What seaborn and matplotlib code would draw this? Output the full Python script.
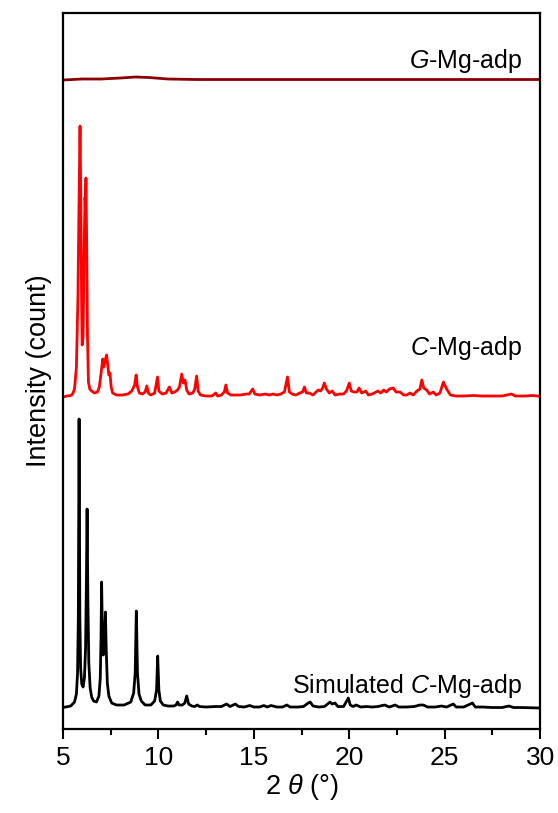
import matplotlib
matplotlib.use("Agg")
import matplotlib.pyplot as plt
import seaborn as sns
from matplotlib.ticker import MultipleLocator

# simulated C-Mg-adp pattern (2theta, intensity above its own baseline)
sim_x = [5.0, 5.4, 5.6, 5.7, 5.76, 5.8, 5.84, 5.88, 5.92, 5.98, 6.05, 6.12, 6.18, 6.22, 6.26,
         6.30, 6.35, 6.42, 6.5, 6.6, 6.75, 6.88, 6.95, 6.99, 7.02, 7.06, 7.11, 7.15, 7.19, 7.22,
         7.26, 7.32, 7.4, 7.55, 7.8, 8.2, 8.55, 8.7, 8.78, 8.84, 8.9, 8.98, 9.1, 9.3, 9.6, 9.8,
         9.9, 9.96, 10.02, 10.1, 10.25, 10.5, 10.8, 10.92, 11.0, 11.08, 11.25, 11.38, 11.48,
         11.58, 11.75, 11.9, 12.04, 12.15, 12.5, 13.0, 13.3, 13.57, 13.75, 14.03, 14.2, 14.5,
         14.78, 15.0, 15.3, 15.52, 15.7, 15.9, 16.2, 16.5, 16.73, 16.9, 17.3, 17.6, 17.85,
         17.95, 18.1, 18.4, 18.7, 18.99, 19.1, 19.25, 19.4, 19.7, 19.95, 20.05, 20.2, 20.36,
         20.6, 20.9, 21.2, 21.5, 21.85, 22.1, 22.4, 22.6, 23.0, 23.4, 23.7, 23.88, 24.1, 24.5,
         24.83, 25.1, 25.45, 25.6, 26.0, 26.45, 26.6, 27.0, 27.5, 28.0, 28.37, 28.6, 29.0, 30.0]
sim_y = [0.5, 2, 6, 14, 35, 90, 289, 90, 40, 24, 21, 30, 60, 120, 199,
         110, 45, 20, 11, 7, 6, 12, 30, 70, 126, 75, 53, 60, 80, 96,
         60, 25, 12, 5, 3, 3, 6, 15, 35, 97, 35, 14, 7, 3, 3, 7,
         18, 52, 18, 7, 3, 2, 2, 3, 6, 3, 3, 5, 12,
         4, 2, 1.5, 3, 1.5, 1, 1.5, 1.5, 4, 1.5, 4, 1.5, 1,
         2.5, 1, 1, 2.5, 1, 2.5, 1, 1, 3, 1, 1, 1.5, 5,
         6, 2, 1, 1.5, 6, 4, 5, 1.5, 1.5, 10, 3, 1.5, 3,
         1, 1.5, 1, 1.5, 3, 1, 3, 1, 1, 1.5, 3, 3, 1, 1,
         2, 1, 4, 1, 1, 5, 1, 1, 0.5, 0.5, 2, 0.5, 0.5, 0]

# measured C-Mg-adp pattern
cmg_x = [5.0, 5.2, 5.4, 5.5, 5.6, 5.7, 5.78, 5.84, 5.89, 5.93, 5.97, 6.0, 6.05, 6.1, 6.15,
         6.17, 6.2, 6.24, 6.28, 6.33, 6.4, 6.5, 6.65, 6.8, 6.9, 7.0, 7.08, 7.13, 7.2, 7.28,
         7.35, 7.4, 7.46, 7.52, 7.6, 7.8, 8.1, 8.4, 8.6, 8.75, 8.83, 8.9, 9.0, 9.15, 9.3,
         9.39, 9.47, 9.6, 9.8, 9.95, 10.02, 10.2, 10.4, 10.57, 10.7, 10.85, 11.0, 11.1, 11.22,
         11.3, 11.39, 11.48, 11.6, 11.8, 11.9, 12.0, 12.08, 12.2, 12.5, 12.8, 13.0, 13.1,
         13.3, 13.45, 13.53, 13.62, 13.8, 14.0, 14.3, 14.6, 14.75, 14.94, 15.05, 15.3, 15.6,
         15.8, 16.0, 16.2, 16.4, 16.6, 16.76, 16.86, 17.0, 17.2, 17.4, 17.55, 17.65, 17.75,
         17.9, 18.1, 18.25, 18.38, 18.5, 18.6, 18.69, 18.8, 18.95, 19.11, 19.25, 19.5, 19.7,
         19.85, 20.0, 20.1, 20.25, 20.4, 20.51, 20.65, 20.86, 21.0, 21.2, 21.5, 21.65, 21.8,
         21.95, 22.1, 22.3, 22.45, 22.66, 22.85, 23.0, 23.19, 23.35, 23.54, 23.7, 23.8, 23.9,
         24.06, 24.2, 24.4, 24.55, 24.75, 24.93, 25.1, 25.3, 25.6, 26.0, 26.5, 27.0, 27.5,
         28.0, 28.5, 28.7, 29.2, 29.6, 29.9, 30.0]
cmg_y = [0, 1, 1.5, 3, 8, 30, 100, 200, 271, 200, 100, 52, 60, 140, 200,
         190, 219, 150, 60, 15, 8, 6, 4, 5, 10, 25, 38, 30, 36, 42,
         30, 22, 24, 10, 4, 2, 2, 3, 6, 12, 22, 10, 4, 3, 5,
         11, 4, 2, 4, 20, 6, 3, 4, 10, 4, 5, 7, 10, 23,
         14, 17, 7, 3, 4, 8, 21, 6, 2, 1, 1, 4, 1,
         2, 5, 12, 4, 2, 2, 2, 3, 3, 8, 3, 2, 3,
         2, 3, 2, 3, 5, 20, 5, 3, 2, 4, 5, 10, 4,
         4, 2, 5, 7, 6, 9, 14, 8, 4, 6, 2, 3, 3,
         6, 14, 6, 5, 5, 9, 4, 6, 2, 3, 6, 4, 7,
         5, 8, 9, 5, 5, 2, 2, 4, 2, 6, 8, 17, 9,
         7, 3, 5, 2, 4, 15, 8, 2, 1, 1, 1.5, 1, 1,
         1, 3, 1, 1, 1.5, 1, 0]

# G-Mg-adp (nearly featureless)
gmg_x = [5.0, 6.0, 7.0, 8.0, 8.8, 9.5, 10.5, 12.0, 15.0, 20.0, 25.0, 30.0]
gmg_y = [-1, 0, 0, 1, 2, 1.5, 0, -0.5, -0.5, -0.5, -0.5, -0.5]

offsets = [21, 332, 650]
labels = ["Simulated $\\mathit{C}$-Mg-adp", "$\\mathit{C}$-Mg-adp", "$\\mathit{G}$-Mg-adp"]
label_y = [43, 381, 668]
colors = ["#000000", "#ff0000", "#8b0000"]

sns.set_style("ticks")
plt.rcParams["font.family"] = ["Liberation Sans", "DejaVu Sans"]
plt.rcParams["mathtext.fontset"] = "custom"
plt.rcParams["mathtext.rm"] = "Liberation Sans"
plt.rcParams["mathtext.it"] = "Liberation Sans:italic"
plt.rcParams["text.color"] = "black"
plt.rcParams["axes.labelcolor"] = "black"
plt.rcParams["axes.edgecolor"] = "black"
plt.rcParams["xtick.color"] = "black"

fig = plt.figure(figsize=(5.58, 8.13), dpi=100)
ax = fig.add_axes([0.113, 0.1033, 0.855, 0.8807])

series = [(sim_x, sim_y), (cmg_x, cmg_y), (gmg_x, gmg_y)]
for (xs, ys), off, col in zip(series, offsets, colors):
    sns.lineplot(x=xs, y=[v + off for v in ys], ax=ax, color=col, linewidth=2.0)

for lab, ly in zip(labels, label_y):
    ax.text(29.05, ly, lab, ha="right", va="center", fontsize=18)

ax.set_xlim(5, 30)
ax.set_ylim(0, 716)
ax.set_yticks([])
ax.xaxis.set_major_locator(MultipleLocator(5))
ax.xaxis.set_minor_locator(MultipleLocator(2.5))
ax.tick_params(axis="x", which="major", direction="out", length=7, width=1.5, labelsize=19, pad=5)
ax.tick_params(axis="x", which="minor", direction="out", length=4, width=1.5)
for sp in ax.spines.values():
    sp.set_visible(True)
    sp.set_linewidth(1.6)
ax.set_xlabel("2 $\\mathit{\\theta}$ (°)", fontsize=19.5, labelpad=2)
ax.set_ylabel("Intensity (count)", fontsize=19.5, labelpad=8)

fig.savefig("out.png", dpi=100)
